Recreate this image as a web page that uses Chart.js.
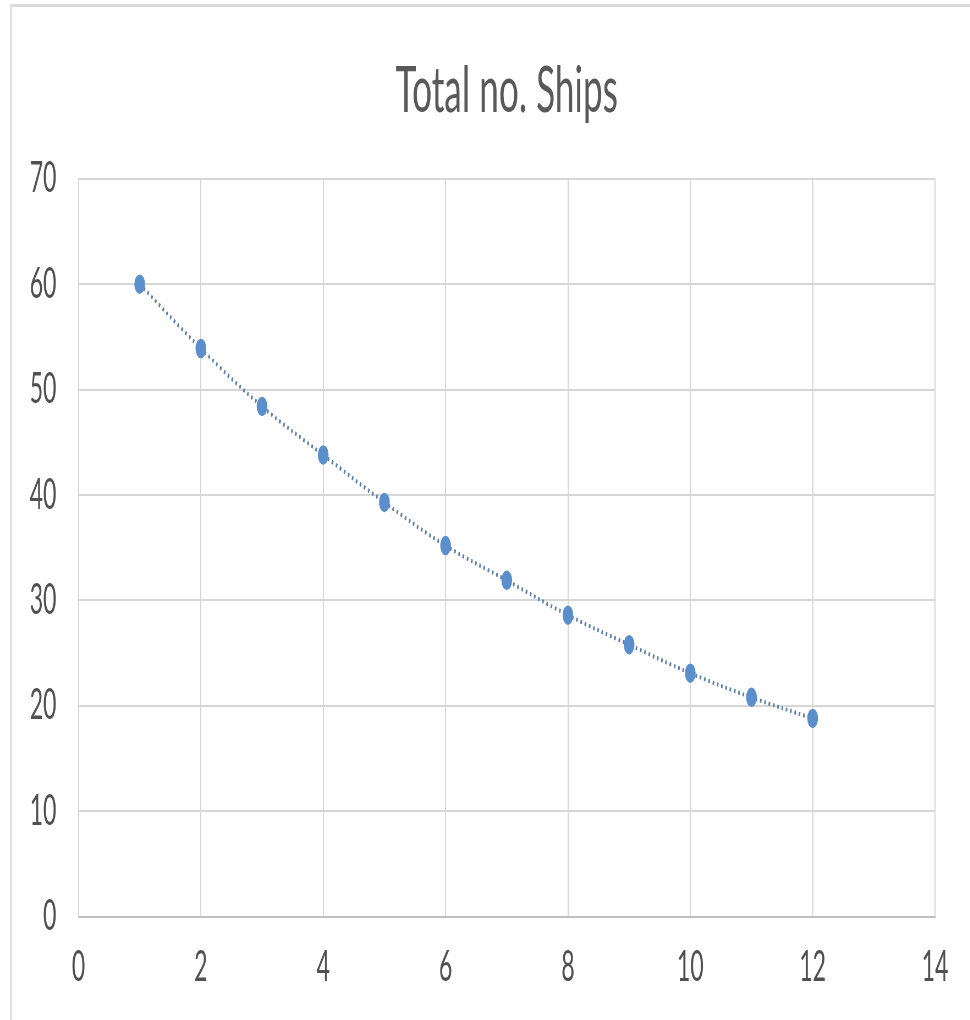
<!DOCTYPE html>
<html lang="en">
<head>
<meta charset="UTF-8">
<title>Total no. Ships</title>
<script src="https://cdn.jsdelivr.net/npm/chart.js"></script>
<style>
    html, body {
        margin: 0;
        padding: 0;
        background: #fff;
        overflow: hidden;
        width: 970px;
        height: 1020px;
    }
    /* chart area border, as in the spreadsheet export */
    .frame {
        position: absolute;
        left: 10px;
        top: 4px;
        width: 990px;
        height: 1050px;
        border-top: 3px solid #dcdcdc;
        border-left: 2px solid #e0e0e0;
    }
    /* the source picture is squeezed sideways, so draw wide and squeeze it too */
    .squash {
        position: absolute;
        left: 0;
        top: 0;
        width: 1764px;
        height: 1020px;
        transform: scaleX(0.55);
        transform-origin: 0 0;
    }
</style>
</head>
<body>
<div class="frame"></div>
<div class="squash">
    <canvas id="shipsChart" width="1764" height="1020"></canvas>
</div>
<script>
    const periods = [1, 2, 3, 4, 5, 6, 7, 8, 9, 10, 11, 12];
    const totalShips = [60, 53.9, 48.4, 43.8, 39.3, 35.2, 31.9, 28.6, 25.8, 23.1, 20.8, 18.8];
    const xTicks = [0, 2, 4, 6, 8, 10, 12, 14];
    const yTicks = [0, 10, 20, 30, 40, 50, 60, 70];

    const points = periods.map((p, i) => ({ x: p, y: totalShips[i] }));

    const gridColor = '#d6d6d6';
    const textColor = '#505050';
    const tickFont = { family: 'Lato, "Open Sans", sans-serif', size: 42 };

    new Chart(document.getElementById('shipsChart'), {
        type: 'scatter',
        data: {
            datasets: [
                {
                    label: 'Total no. Ships',
                    data: points,
                    backgroundColor: '#5b8fcc',
                    borderColor: '#5b8fcc',
                    pointRadius: 9,
                    pointBorderWidth: 1.5,
                    order: 1
                },
                {
                    label: 'Trend',
                    data: points,
                    showLine: true,
                    pointRadius: 0,
                    borderColor: '#5b7fa8',
                    borderWidth: 4,
                    borderDash: [3, 5],
                    tension: 0.4,
                    fill: false,
                    order: 2
                }
            ]
        },
        options: {
            responsive: false,
            animation: false,
            layout: {
                padding: { left: 14, right: 64, top: 0, bottom: 1 }
            },
            plugins: {
                legend: { display: false },
                tooltip: { enabled: false },
                title: {
                    display: true,
                    fullSize: false,
                    text: 'Total no. Ships',
                    color: '#595959',
                    font: { family: 'Lato, "Open Sans", sans-serif', size: 64, weight: 'normal', lineHeight: 1.2 },
                    padding: { top: 53, bottom: 49 }
                }
            },
            scales: {
                x: {
                    type: 'linear',
                    min: xTicks[0],
                    max: xTicks[xTicks.length - 1],
                    ticks: {
                        stepSize: 2,
                        color: textColor,
                        font: tickFont,
                        padding: 26,
                        maxRotation: 0
                    },
                    grid: { color: gridColor, lineWidth: 2, drawTicks: false },
                    border: { color: '#bfbfbf', width: 2 }
                },
                y: {
                    min: yTicks[0],
                    max: yTicks[yTicks.length - 1],
                    ticks: {
                        stepSize: 10,
                        color: textColor,
                        font: tickFont,
                        padding: 40
                    },
                    grid: { color: gridColor, lineWidth: 2, drawTicks: false },
                    border: { color: gridColor, width: 2 }
                }
            }
        }
    });
</script>
</body>
</html>
